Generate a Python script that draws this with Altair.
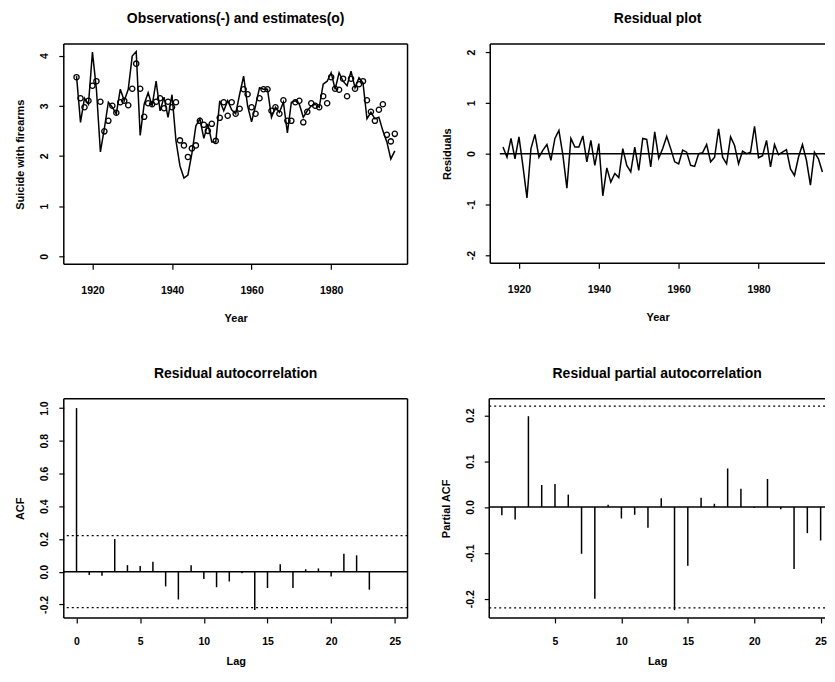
import altair as alt
import pandas as pd

FONT = "Liberation Sans"

# ---------------- data ----------------
years = list(range(1916, 1997))
observed = [3.59, 2.67, 3.15, 3.03, 4.07, 3.33, 2.08, 2.55, 3.07, 2.97,
            2.84, 3.33, 3.10, 3.33, 3.99, 4.08, 2.41, 3.03, 3.26, 3.00,
            3.49, 2.90, 3.17, 2.77, 3.22, 2.30, 1.80, 1.56, 1.62, 2.05,
            2.60, 2.74, 2.35, 2.64, 2.28, 2.28, 3.10, 2.90, 3.10, 2.92,
            2.84, 3.23, 3.59, 3.00, 2.68, 3.00, 3.36, 3.33, 3.33, 2.77,
            2.97, 2.87, 3.07, 2.46, 3.07, 3.10, 3.03, 2.77, 2.90, 3.00,
            3.03, 2.97, 3.43, 3.49, 3.66, 3.33, 3.66, 3.49, 3.40, 3.69,
            3.36, 3.56, 3.46, 2.74, 2.87, 2.74, 2.77, 2.50, 2.28, 1.94,
            2.10]
estimated = [3.57, 3.15, 2.97, 3.10, 3.40, 3.49, 3.08, 2.49, 2.70, 3.00,
             2.86, 3.07, 3.10, 3.01, 3.34, 3.84, 3.34, 2.78, 3.05, 3.03,
             3.08, 3.15, 2.95, 3.08, 2.97, 3.07, 2.31, 2.21, 1.98, 2.15,
             2.21, 2.70, 2.62, 2.50, 2.64, 2.30, 2.76, 3.07, 2.80, 3.07,
             2.84, 2.94, 3.33, 3.23, 2.97, 2.84, 3.15, 3.33, 3.33, 2.90,
             2.97, 2.84, 3.11, 2.70, 2.70, 3.07, 3.10, 2.67, 2.88, 3.05,
             3.00, 2.97, 3.19, 3.05, 3.57, 3.34, 3.32, 3.54, 3.19, 3.54,
             3.34, 3.43, 3.49, 3.11, 2.88, 2.70, 2.92, 3.03, 2.42, 2.29,
             2.44]
residuals = [0.13, -0.07, 0.30, -0.10, 0.33, -0.25, -0.87, 0.10, 0.38, -0.07,
             0.07, 0.18, -0.13, 0.30, 0.46, -0.03, -0.68, 0.30, 0.13, 0.13,
             0.35, -0.16, 0.26, -0.23, 0.20, -0.83, -0.28, -0.56, -0.39, -0.47,
             0.10, -0.23, -0.36, 0.13, -0.33, 0.30, 0.28, -0.26, 0.43, -0.09,
             0.10, 0.34, 0.10, -0.16, -0.20, 0.07, 0.03, -0.23, -0.25, 0.00,
             0.02, 0.18, -0.16, -0.07, 0.49, -0.07, -0.20, 0.33, 0.16, -0.20,
             0.05, 0.00, 0.03, 0.54, -0.08, -0.04, 0.26, -0.26, 0.18, -0.02,
             0.03, 0.08, -0.30, -0.43, -0.07, 0.18, -0.13, -0.62, 0.03, -0.10,
             -0.36]
zero_line_years = [1915.2, 1997.0]

acf_lags = list(range(0, 24))
acf_values = [1.00, -0.02, -0.025, 0.20, 0.04, 0.035, 0.06, -0.09, -0.17, 0.04,
              -0.045, -0.095, -0.06, -0.01, -0.235, -0.10, 0.045, -0.10, 0.015, 0.02,
              -0.03, 0.11, 0.10, -0.11]
pacf_lags = list(range(1, 26))
pacf_values = [-0.018, -0.027, 0.198, 0.048, 0.050, 0.027, -0.102, -0.200, 0.005, -0.025,
               -0.017, -0.045, 0.019, -0.225, -0.128, 0.020, 0.007, 0.084, 0.040, -0.002,
               0.061, -0.005, -0.135, -0.057, -0.073]
conf_bound = 0.22

year_ticks = [1920, 1940, 1960, 1980]

# axis ranges (R-style 4 % extension; right panels run off the page edge)
obs_x_dom = [1912.8, 1999.2]
obs_y_dom = [-0.16, 4.23]
res_x_dom = [1912.8, 1996.65]
res_y_dom = [-2.16, 2.16]
acf_x_dom = [-1.0, 26.0]
acf_y_dom = [-0.283, 1.057]
pacf_x_dom = [0.05, 25.33]
pacf_y_dom = [-0.242, 0.236]

# ---------------- helpers ----------------
W, H = 345, 221
WR = 336
LW = 1.5


def neg_label(fmt):
    return ("datum.value < 0 ? '-' + format(-datum.value, '%s') : format(datum.value, '%s')"
            % (fmt, fmt))


def title(text):
    return alt.TitleParams(text, font=FONT, fontSize=14, fontWeight="bold",
                           anchor="middle", offset=17, color="black")


def hline(value, dash=None, width=LW):
    kw = dict(color="black", strokeWidth=width)
    if dash:
        kw["strokeDash"] = dash
    return alt.Chart().mark_rule(**kw).encode(y=alt.datum(value))


def vline(value):
    return alt.Chart().mark_rule(color="black", strokeWidth=LW).encode(x=alt.datum(value))


def frame(xdom, ydom, right=True):
    """Box around the plot area, drawn at the scale limits."""
    layers = [hline(ydom[1]), hline(ydom[0]), vline(xdom[0])]
    if right:
        layers.append(vline(xdom[1]))
    return layers


def yaxis(values, title_text, fmt):
    return alt.Axis(values=values, tickCount=len(values) + 2, labelExpr=neg_label(fmt),
                    title=title_text, labelAngle=270, labelOverlap=False,
                    labelPadding=9, titlePadding=14)


def xaxis(values, title_text, top_row):
    if top_row:
        return alt.Axis(values=values, tickCount=len(values) + 2, format="d",
                        title=title_text, labelPadding=16, titlePadding=17,
                        labelOverlap=False)
    return alt.Axis(values=values, tickCount=len(values) + 2, format="d",
                    title=title_text, labelPadding=14, titlePadding=8,
                    labelOverlap=False)


# ---------------- panel 1: observations and estimates ----------------
df_obs = pd.DataFrame({"year": years, "observed": observed, "estimated": estimated})
obs_line = alt.Chart(df_obs).mark_line(color="black", strokeWidth=1.5).encode(
    x=alt.X("year:Q", scale=alt.Scale(domain=obs_x_dom, nice=False, zero=False),
            axis=xaxis(year_ticks, "Year", True)),
    y=alt.Y("observed:Q", scale=alt.Scale(domain=obs_y_dom, nice=False, zero=False),
            axis=yaxis([0, 1, 2, 3, 4], "Suicide with firearms", "d")),
)
est_pts = alt.Chart(df_obs).mark_point(shape="circle", filled=False, color="black",
                                       size=28, strokeWidth=1.3, opacity=1).encode(
    x=alt.X("year:Q", title="Year"), y=alt.Y("estimated:Q", title="Suicide with firearms"))
p1 = alt.layer(obs_line, est_pts, *frame(obs_x_dom, obs_y_dom)).properties(
    width=W, height=H, title=title("Observations(-) and estimates(o)"))

# ---------------- panel 2: residuals ----------------
df_res = pd.DataFrame({"year": years, "residual": residuals})
res_line = alt.Chart(df_res).mark_line(color="black", strokeWidth=1.5).encode(
    x=alt.X("year:Q", scale=alt.Scale(domain=res_x_dom, nice=False, zero=False),
            axis=xaxis(year_ticks, "Year", True)),
    y=alt.Y("residual:Q", scale=alt.Scale(domain=res_y_dom, nice=False, zero=False),
            axis=yaxis([-2, -1, 0, 1, 2], "Residuals", "d")),
)
zero_rule = alt.Chart().mark_rule(color="black", strokeWidth=1.5, clip=True).encode(
    x=alt.datum(zero_line_years[0]), x2=alt.datum(zero_line_years[1]), y=alt.datum(0))
p2 = alt.layer(res_line, zero_rule, *frame(res_x_dom, res_y_dom, right=False)).properties(
    width=WR, height=H - 1, title=title("Residual plot"))

# ---------------- panel 3: ACF ----------------
df_acf = pd.DataFrame({"lag": acf_lags, "acf": acf_values})
acf_bars = alt.Chart(df_acf).mark_rule(color="black", strokeWidth=1.5).encode(
    x=alt.X("lag:Q", scale=alt.Scale(domain=acf_x_dom, nice=False, zero=False),
            axis=xaxis([0, 5, 10, 15, 20, 25], "Lag", False)),
    y=alt.Y("acf:Q", scale=alt.Scale(domain=acf_y_dom, nice=False, zero=False),
            axis=yaxis([-0.2, 0, 0.2, 0.4, 0.6, 0.8, 1.0], "ACF", ".1f")),
    y2=alt.datum(0),
)
p3 = alt.layer(acf_bars, hline(0),
               hline(conf_bound, dash=[2, 3], width=1.3),
               hline(-conf_bound, dash=[2, 3], width=1.3),
               *frame(acf_x_dom, acf_y_dom)).properties(
    width=W, height=H - 1, title=title("Residual autocorrelation"))

# ---------------- panel 4: PACF ----------------
df_pacf = pd.DataFrame({"lag": pacf_lags, "pacf": pacf_values})
pacf_bars = alt.Chart(df_pacf).mark_rule(color="black", strokeWidth=1.5).encode(
    x=alt.X("lag:Q", scale=alt.Scale(domain=pacf_x_dom, nice=False, zero=False),
            axis=xaxis([5, 10, 15, 20, 25], "Lag", False)),
    y=alt.Y("pacf:Q", scale=alt.Scale(domain=pacf_y_dom, nice=False, zero=False),
            axis=yaxis([-0.2, -0.1, 0, 0.1, 0.2], "Partial ACF", ".1f")),
    y2=alt.datum(0),
)
p4 = alt.layer(pacf_bars, hline(0),
               hline(conf_bound, dash=[2, 3], width=1.3),
               hline(-conf_bound, dash=[2, 3], width=1.3),
               *frame(pacf_x_dom, pacf_y_dom, right=False)).properties(
    width=WR + 1, height=H - 1, title=title("Residual partial autocorrelation"))

chart = alt.vconcat(
    alt.hconcat(p1, p2, spacing=32),
    alt.hconcat(p3, p4, spacing=32),
    spacing=43,
).properties(
    padding={"left": 7, "top": 3, "right": 0, "bottom": 0},
    background="white",
).configure_view(
    stroke=None,
).configure_axis(
    domain=False, grid=False, ticks=True, tickColor="black", tickSize=5, tickWidth=1.2,
    labelFont=FONT, labelFontSize=10.5, labelFontWeight="bold", labelColor="black",
    titleFont=FONT, titleFontSize=11, titleFontWeight="bold", titleColor="black",
    labelOverlap=False,
).configure_axisY(
    labelAngle=270, labelPadding=9, titlePadding=14,
)

chart.save("out.html", embed_options={"renderer": "svg", "actions": False})
